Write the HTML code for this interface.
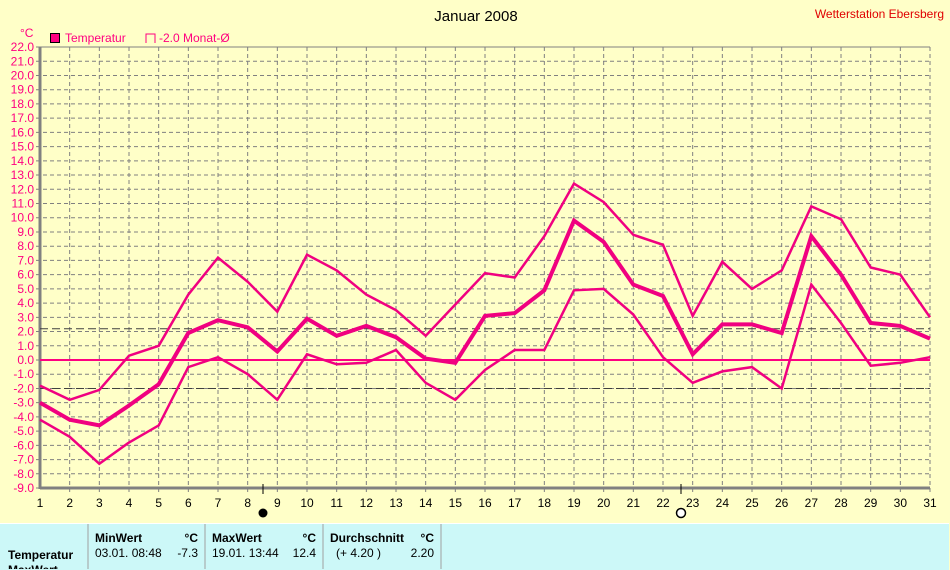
<!DOCTYPE html>
<html><head><meta charset="utf-8"><style>
body{margin:0;width:950px;height:569px;overflow:hidden;background:#ffffc8;font-family:"Liberation Sans",sans-serif}
svg{position:absolute;left:0;top:0}
.tbl{position:absolute;left:0;top:523px;width:949px;height:46px;background:#ccf8f8;border-top:1px solid #fff}
</style></head><body>
<svg id="s" width="950" height="569" xmlns="http://www.w3.org/2000/svg" font-family="Liberation Sans, sans-serif">
<text x="476" y="21" font-size="15" text-anchor="middle" fill="#000">Januar 2008</text>
<text x="944" y="18" font-size="12" text-anchor="end" fill="#e00000">Wetterstation Ebersberg</text>
<text x="20" y="37" font-size="12" fill="#ff0080">°C</text>
<rect x="50.5" y="33.5" width="9" height="9" fill="#ff0080" stroke="#000"/>
<text x="65" y="42" font-size="12" fill="#ff0080">Temperatur</text>
<path d="M146 43V34H155V43" fill="none" stroke="#ff0080"/>
<text x="159" y="42" font-size="12" fill="#ff0080">-2.0 Monat-Ø</text>
<g id="g"></g>
</svg>
<div class="tbl"></div>
<svg width="950" height="569" style="pointer-events:none" font-family="Liberation Sans, sans-serif" font-size="12">
<g stroke="#a0a0a0"><line x1="88" y1="524" x2="88" y2="569"/><line x1="205" y1="524" x2="205" y2="569"/><line x1="323" y1="524" x2="323" y2="569"/><line x1="441" y1="524" x2="441" y2="569"/></g>
<text x="95" y="542" font-weight="bold">MinWert</text><text x="198" y="542" text-anchor="end" font-weight="bold">°C</text>
<text x="212" y="542" font-weight="bold">MaxWert</text><text x="316" y="542" text-anchor="end" font-weight="bold">°C</text>
<text x="330" y="542" font-weight="bold">Durchschnitt</text><text x="434" y="542" text-anchor="end" font-weight="bold">°C</text>
<text x="8" y="559" font-weight="bold">Temperatur</text>
<text x="8" y="574" font-weight="bold">MaxWert</text>
<text x="95" y="557">03.01.  08:48</text><text x="198" y="557" text-anchor="end">-7.3</text>
<text x="212" y="557">19.01.  13:44</text><text x="316" y="557" text-anchor="end">12.4</text>
<text x="336" y="557">(+ 4.20 )</text><text x="434" y="557" text-anchor="end">2.20</text>
</svg>
<script>
const X=d=>40+(d-1)*29.667, Y=v=>360-v*14.226;
let h='';
for(let d=2;d<=31;d++)h+=`<line x1="${X(d)}" y1="47" x2="${X(d)}" y2="492" stroke="#808080" stroke-dasharray="4,3"/>`;
for(let v=-9;v<=22;v++){h+=`<line x1="36" y1="${Y(v)}" x2="930" y2="${Y(v)}" stroke="#808080" stroke-dasharray="${v==22||v==-9?'':'4,3'}"/>`;
h+=`<text x="34" y="${Y(v)+4}" font-size="12" text-anchor="end" fill="#ff0080">${v.toFixed(1)}</text>`;}
for(let d=1;d<=31;d++)h+=`<text x="${X(d)}" y="507" font-size="12" text-anchor="middle">${d}</text>`;
h+=`<line x1="40" y1="47" x2="40" y2="489" stroke="#808080" stroke-width="3"/><line x1="40" y1="488" x2="930" y2="488" stroke="#808080" stroke-width="3"/>`;
h+=`<line x1="40" y1="${Y(2.2)}" x2="930" y2="${Y(2.2)}" stroke="#404040" stroke-dasharray="8,4"/><line x1="40" y1="${Y(-2)}" x2="930" y2="${Y(-2)}" stroke="#404040" stroke-dasharray="8,4"/>`;
h+=`<line x1="40" y1="360" x2="930" y2="360" stroke="#ff0080" stroke-width="2"/>`;
const mean=[-3.0,-4.2,-4.6,-3.2,-1.7,1.9,2.8,2.3,0.6,2.9,1.7,2.4,1.6,0.1,-0.2,3.1,3.3,4.9,9.8,8.3,5.3,4.5,0.4,2.5,2.5,1.9,8.7,6.0,2.6,2.4,1.5];
const mx=[-1.8,-2.8,-2.1,0.3,1.0,4.6,7.2,5.5,3.4,7.4,6.3,4.6,3.5,1.7,3.9,6.1,5.8,8.7,12.4,11.1,8.8,8.1,3.1,6.9,5.0,6.3,10.8,9.9,6.5,6.0,3.0];
const mn=[-4.2,-5.4,-7.3,-5.8,-4.6,-0.5,0.2,-1.0,-2.8,0.4,-0.3,-0.2,0.7,-1.6,-2.8,-0.7,0.7,0.7,4.9,5.0,3.2,0.2,-1.6,-0.8,-0.5,-2.0,5.3,2.6,-0.4,-0.2,0.2];
const P=a=>a.map((v,i)=>X(i+1).toFixed(1)+','+Y(v).toFixed(1)).join(' ');
h+=`<polyline points="${P(mx)}" fill="none" stroke="#f00080" stroke-width="2.5"/>`;
h+=`<polyline points="${P(mn)}" fill="none" stroke="#f00080" stroke-width="2.5"/>`;
h+=`<polyline points="${P(mean)}" fill="none" stroke="#f00080" stroke-width="4"/>`;
h+=`<line x1="263" y1="484" x2="263" y2="494" stroke="#000"/><circle cx="263" cy="513" r="4.5" fill="#000"/>`;
h+=`<line x1="681" y1="484" x2="681" y2="494" stroke="#000"/><circle cx="681" cy="513" r="4.5" fill="#fff" stroke="#000" stroke-width="1.5"/>`;
document.getElementById('g').innerHTML=h;
</script>
</body></html>
